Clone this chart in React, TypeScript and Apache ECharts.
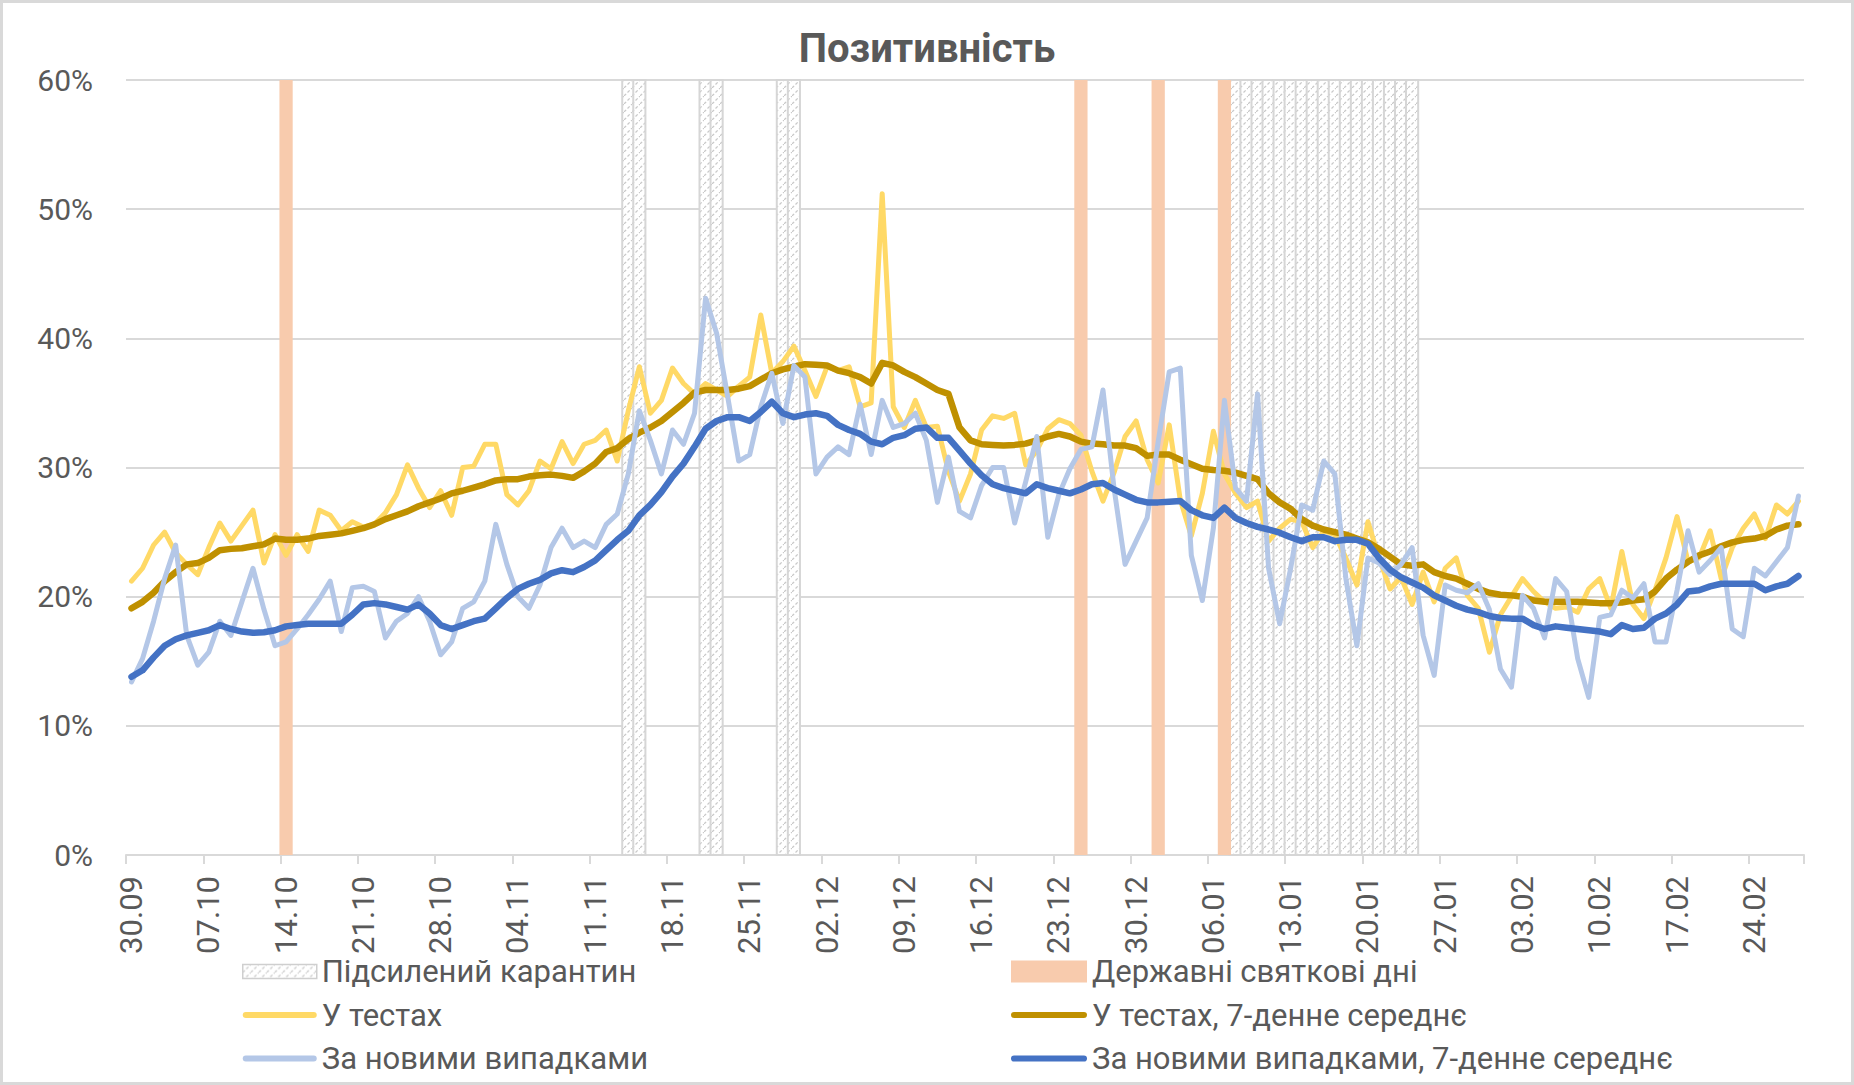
import { useEffect, useRef } from 'react';
import * as echarts from 'echarts';

// щоденні значення, 30.09 – 28.02
const testsDaily = [
  21.2, 22.2, 24.0, 25.0, 23.4, 22.5, 21.7, 23.8, 25.7, 24.3, 25.5, 26.7, 22.6, 24.8, 23.2, 24.8, 23.5, 26.7, 26.3, 25.1,
  25.8, 25.4, 25.6, 26.5, 27.9, 30.2, 28.4, 26.9, 28.2, 26.3, 30.0, 30.1, 31.8, 31.8, 27.9, 27.1, 28.2, 30.5, 29.9, 32.0,
  30.3, 31.8, 32.1, 32.9, 30.5, 34.4, 37.8, 34.2, 35.2, 37.7, 36.5, 35.7, 36.5, 36.0, 35.5, 36.3, 37.0, 41.8, 37.3, 38.2,
  39.4, 37.5, 35.5, 37.8, 37.5, 37.8, 34.7, 35.0, 51.2, 34.7, 33.1, 35.2, 33.1, 33.2, 29.7, 27.4, 29.5, 32.9, 34.0, 33.8,
  34.2, 30.2, 31.3, 33.0, 33.7, 33.4, 32.5, 29.7, 27.4, 29.6, 32.4, 33.6, 30.6, 28.8, 33.3, 27.5, 24.7, 28.0, 32.8, 29.5,
  28.0, 26.9, 27.4, 24.3, 25.3, 26.0, 25.8, 23.8, 25.1, 24.8, 23.0, 20.9, 25.8, 23.0, 20.6, 21.5, 19.4, 21.9, 19.6, 22.2,
  23.0, 20.1, 19.1, 15.7, 18.6, 20.0, 21.4, 20.4, 19.6, 19.1, 19.2, 18.8, 20.6, 21.4, 19.1, 23.5, 19.4, 18.3, 20.5, 23.0,
  26.2, 22.7, 23.0, 25.1, 21.4, 23.8, 25.3, 26.4, 24.5, 27.1, 26.4, 27.4
];

const testsAvg = [
  19.1, 19.6, 20.3, 21.2, 21.9, 22.5, 22.6, 23.0, 23.6, 23.7, 23.75, 23.9, 24.05, 24.5, 24.4, 24.4, 24.5, 24.7, 24.8, 24.9,
  25.1, 25.3, 25.6, 26.0, 26.3, 26.6, 27.0, 27.3, 27.6, 28.0, 28.2, 28.45, 28.7, 29.0, 29.1, 29.1, 29.3, 29.4, 29.45, 29.35,
  29.2, 29.7, 30.3, 31.2, 31.5, 32.2, 32.7, 33.1, 33.6, 34.3, 35.0, 35.8, 36.0, 36.0, 36.0, 36.1, 36.3, 36.8, 37.3, 37.6,
  37.8, 38.0, 37.95, 37.9, 37.5, 37.3, 37.0, 36.5, 38.1, 37.9, 37.4, 37.0, 36.5, 36.0, 35.7, 33.1, 32.1, 31.8, 31.75, 31.7,
  31.75, 31.85, 32.1, 32.4, 32.6, 32.4, 32.0, 31.85, 31.8, 31.7, 31.7, 31.5, 30.9, 31.0, 31.0, 30.6, 30.25, 29.9, 29.8, 29.75,
  29.6, 29.35, 29.1, 28.0, 27.3, 26.8, 26.0, 25.5, 25.2, 25.0, 24.8, 24.5, 24.2, 23.7, 23.1, 22.5, 22.4, 22.5, 21.9, 21.6,
  21.4, 21.0, 20.6, 20.3, 20.15, 20.1, 20.0, 19.7, 19.6, 19.6, 19.6, 19.6, 19.55, 19.5, 19.5, 19.55, 19.7, 19.8, 20.4, 21.4,
  22.1, 22.7, 23.2, 23.5, 23.9, 24.2, 24.4, 24.5, 24.7, 25.2, 25.5, 25.6
];

const casesDaily = [
  13.4, 15.2, 18.1, 21.4, 24.0, 17.0, 14.7, 15.7, 18.1, 17.0, 19.6, 22.2, 19.0, 16.2, 16.5, 17.5, 18.6, 19.8, 21.2, 17.3,
  20.7, 20.8, 20.4, 16.8, 18.1, 18.7, 20.0, 18.1, 15.5, 16.5, 19.1, 19.6, 21.2, 25.6, 22.5, 20.0, 19.1, 20.9, 23.8, 25.3,
  23.8, 24.3, 23.8, 25.6, 26.4, 29.5, 34.4, 32.1, 29.5, 32.9, 31.8, 34.2, 43.1, 40.4, 35.5, 30.5, 31.0, 34.7, 37.3, 33.4,
  37.9, 37.0, 29.5, 30.8, 31.6, 31.0, 34.9, 31.0, 35.2, 33.1, 33.4, 34.2, 32.1, 27.3, 30.8, 26.6, 26.1, 28.6, 30.0, 30.0,
  25.7, 28.9, 32.4, 24.6, 27.9, 29.9, 31.4, 31.6, 36.0, 28.4, 22.5, 24.3, 26.1, 32.0, 37.4, 37.7, 23.2, 19.7, 25.3, 35.2,
  28.4, 27.4, 35.7, 22.2, 17.9, 22.2, 27.1, 26.7, 30.5, 29.5, 21.4, 16.2, 23.0, 22.6, 21.7, 22.5, 23.8, 17.0, 13.9, 20.9,
  20.5, 20.3, 21.0, 19.0, 14.4, 13.0, 20.1, 19.1, 16.8, 21.4, 20.4, 15.2, 12.2, 18.4, 18.6, 20.5, 19.9, 21.0, 16.5, 16.5,
  20.5, 25.1, 21.9, 22.8, 23.8, 17.5, 16.9, 22.2, 21.6, 22.7, 23.8, 27.8
];

const casesAvg = [
  13.8, 14.3, 15.3, 16.2, 16.7, 17.0, 17.2, 17.4, 17.8, 17.5, 17.3, 17.2, 17.25, 17.4, 17.7, 17.8, 17.9, 17.9, 17.9, 17.9,
  18.6, 19.4, 19.5, 19.4, 19.2, 19.0, 19.4, 18.7, 17.8, 17.5, 17.8, 18.1, 18.3, 19.1, 19.9, 20.6, 21.0, 21.3, 21.8, 22.05,
  21.9, 22.3, 22.8, 23.6, 24.4, 25.1, 26.3, 27.1, 28.1, 29.3, 30.3, 31.6, 33.0, 33.6, 33.9, 33.9, 33.6, 34.3, 35.1, 34.2,
  33.9, 34.1, 34.2, 34.0, 33.3, 32.9, 32.6, 32.0, 31.8, 32.3, 32.5, 33.0, 33.1, 32.3, 32.3, 31.3, 30.3, 29.4, 28.7, 28.4,
  28.2, 28.0, 28.7, 28.4, 28.2, 28.0, 28.3, 28.7, 28.8, 28.3, 27.9, 27.5, 27.3, 27.3, 27.35, 27.4, 26.7, 26.3, 26.1, 26.9,
  26.1, 25.7, 25.4, 25.2, 24.95, 24.6, 24.3, 24.6, 24.6, 24.3, 24.4, 24.4, 24.1, 23.0, 22.1, 21.5, 21.1, 20.7, 20.1, 19.7,
  19.3, 19.0, 18.8, 18.5, 18.35, 18.3, 18.3, 17.8, 17.5, 17.7, 17.6, 17.5, 17.4, 17.3, 17.1, 17.8, 17.5, 17.6, 18.3, 18.7,
  19.4, 20.4, 20.5, 20.8, 21.0, 21.0, 21.0, 21.0, 20.5, 20.8, 21.0, 21.6
];

// державні святкові дні та дні підсиленого карантину
const holidays = ['14.10', '25.12', '01.01', '07.01'];
const lockdowns = [
  ['14.11', '15.11'],
  ['21.11', '22.11'],
  ['28.11', '29.11'],
  ['08.01', '24.01']
];

const yMin = 0;
const yMax = 60;
const yStep = 10;

const pad = (n: number) => String(n).padStart(2, '0');
const categories: string[] = testsDaily.map((_, i) => {
  const d = new Date(Date.UTC(2020, 8, 30 + i));
  return `${pad(d.getUTCDate())}.${pad(d.getUTCMonth() + 1)}`;
});

const names = {
  lockdown: 'Підсилений карантин',
  holiday: 'Державні святкові дні',
  tests: 'У тестах',
  testsAvg: 'У тестах, 7-денне середнє',
  cases: 'За новими випадками',
  casesAvg: 'За новими випадками, 7-денне середнє'
};

const font = 'Roboto, "Noto Sans", sans-serif';
const textColor = '#595959';
const gridColor = '#d9d9d9';
// іконка лінії в легенді (без маркера)
const lineIcon = 'path://M3 0H71A3 3 0 0 1 71 6H3A3 3 0 0 1 3 0Z';

const makeHatch = () => {
  const c = document.createElement('canvas');
  c.width = 8;
  c.height = 8;
  const ctx = c.getContext('2d');
  if (ctx) {
    ctx.fillStyle = '#ffffff';
    ctx.fillRect(0, 0, 8, 8);
    ctx.strokeStyle = '#c9c9c9';
    ctx.lineWidth = 1.3;
    ctx.setLineDash([3, 2]);
    ctx.beginPath();
    ctx.moveTo(0, 8);
    ctx.lineTo(8, 0);
    ctx.stroke();
  }
  return { image: c.toDataURL(), repeat: 'repeat', imageWidth: 8, imageHeight: 8 } as any;
};

const bandRenderer = (fill: any, stroke: string | null, half: number) => (_params: any, api: any) => {
  const s = api.value(0);
  const e = api.value(1);
  const top = api.coord([s, api.value(2)])[1];
  const bottom = api.coord([s, yMin])[1];
  const bw = api.size([1, 0])[0];
  const children: any[] = [];
  for (let d = s; d <= e; d++) {
    const cx = api.coord([d, yMin])[0];
    children.push({
      type: 'rect',
      shape: { x: cx - half * bw, y: top, width: 2 * half * bw, height: bottom - top },
      style: stroke ? { fill, stroke, lineWidth: 2 } : { fill }
    });
  }
  return { type: 'group', children };
};

const App = () => {
  const chartRef = useRef<HTMLDivElement>(null);

  useEffect(() => {
    if (!chartRef.current) return;
    const chart = echarts.init(chartRef.current, null, { renderer: 'svg' });
    const hatch = makeHatch();
    const idx = (label: string) => categories.indexOf(label);

    const lineSeries = (name: string, data: number[], color: string, width: number) => ({
      name,
      type: 'line',
      data,
      symbol: 'none',
      showSymbol: false,
      lineStyle: { color, width, cap: 'round', join: 'round' },
      itemStyle: { color }
    });

    const legendText = { fontFamily: font, fontSize: 31, color: textColor };

    const option: any = {
      animation: false,
      backgroundColor: '#ffffff',
      title: {
        text: 'Позитивність',
        left: 'center',
        top: 23,
        textStyle: { fontFamily: font, fontWeight: 'bold', fontSize: 40, color: textColor }
      },
      grid: { left: 126, right: 50, top: 80, bottom: 230, containLabel: false },
      xAxis: {
        type: 'category',
        data: categories,
        boundaryGap: true,
        axisLine: { lineStyle: { color: gridColor, width: 2 } },
        axisTick: { show: true, interval: 6, length: 9, lineStyle: { color: gridColor, width: 2 } },
        axisLabel: { interval: 6, rotate: 90, margin: 21, color: textColor, fontFamily: font, fontSize: 31 },
        splitLine: { show: false }
      },
      yAxis: {
        type: 'value',
        min: yMin,
        max: yMax,
        interval: yStep,
        axisLine: { show: false },
        axisTick: { show: false },
        axisLabel: { formatter: '{value}%', margin: 33, color: textColor, fontFamily: font, fontSize: 30 },
        splitLine: { lineStyle: { color: gridColor, width: 2 } }
      },
      legend: [
        {
          orient: 'vertical',
          left: 242,
          top: 956,
          padding: 0,
          itemWidth: 74,
          itemHeight: 14,
          itemGap: 12.5,
          textStyle: legendText,
          data: [
            { name: names.lockdown, icon: 'rect', itemStyle: { color: hatch, borderColor: '#cfcfcf', borderWidth: 1.5 } },
            { name: names.tests, icon: lineIcon },
            { name: names.cases, icon: lineIcon }
          ]
        },
        {
          orient: 'vertical',
          left: 1011,
          top: 956,
          padding: 0,
          itemWidth: 76,
          itemHeight: 22,
          itemGap: 12.5,
          textStyle: legendText,
          data: [
            { name: names.holiday, icon: 'rect' },
            { name: names.testsAvg, icon: lineIcon },
            { name: names.casesAvg, icon: lineIcon }
          ]
        }
      ],
      graphic: [
        {
          type: 'rect',
          shape: { x: 1.5, y: 1.5, width: 1851, height: 1082 },
          style: { fill: 'none', stroke: gridColor, lineWidth: 3 },
          silent: true
        }
      ],
      series: [
        {
          name: names.lockdown,
          type: 'custom',
          renderItem: bandRenderer(hatch, '#d6d6d6', 0.55),
          encode: { x: [0, 1], y: 2 },
          itemStyle: { color: '#e6e6e6' },
          data: lockdowns.map(([a, b]) => [idx(a), idx(b), yMax])
        },
        {
          name: names.holiday,
          type: 'custom',
          renderItem: bandRenderer('#f8cbad', null, 0.6),
          encode: { x: [0, 1], y: 2 },
          itemStyle: { color: '#f8cbad' },
          data: holidays.map((h) => [idx(h), idx(h), yMax])
        },
        lineSeries(names.tests, testsDaily, '#ffd966', 5),
        lineSeries(names.testsAvg, testsAvg, '#bf9000', 6.5),
        lineSeries(names.cases, casesDaily, '#b4c7e7', 5),
        lineSeries(names.casesAvg, casesAvg, '#4472c4', 6.5)
      ]
    };

    chart.setOption(option);

    return () => {
      chart.dispose();
    };
  }, []);

  return (
    <div
      ref={chartRef}
      style={{ position: 'absolute', left: 0, top: 0, width: 1854, height: 1085, background: '#fff' }}
    />
  );
};

export default App;
